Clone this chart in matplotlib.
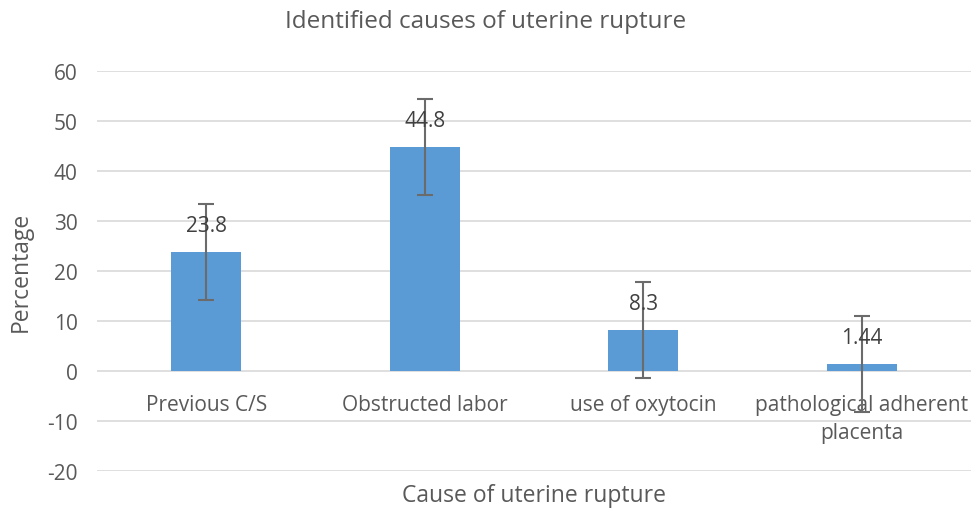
import numpy as np
import matplotlib.pyplot as plt

# Datos
causas = ["Previous C/S", "Obstructed labor", "use of oxytocin",
          "pathological adherent\nplacenta"]
porcentaje = [23.8, 44.8, 8.3, 1.44]
etiquetas = ["23.8", "44.8", "8.3", "1.44"]
error = [9.6, 9.6, 9.6, 9.6]

plt.rcParams['font.family'] = ['Open Sans', 'DejaVu Sans']
plt.rcParams['axes.unicode_minus'] = False
gris = "#595959"

fig = plt.figure(figsize=(9.72, 5.1), dpi=100)
ax = fig.add_axes([97 / 972, 38 / 510, 874 / 972, 400 / 510])

x = np.arange(len(causas))
ax.bar(x, porcentaje, width=0.32, color="#5B9BD5", zorder=3)
ax.errorbar(x, porcentaje, yerr=error, fmt="none", ecolor="#6b6b6b",
            elinewidth=1.5, capsize=6, capthick=1.5, zorder=4)

for xi, v, t in zip(x, porcentaje, etiquetas):
    ax.annotate(t, (xi, v), xytext=(0, 16), textcoords="offset pixels",
                ha="center", va="bottom", fontsize=15, color="#404040", zorder=5)

ax.set_xlim(-0.5, len(causas) - 0.5)
ax.set_ylim(-20, 60)
ax.set_yticks(range(-20, 61, 10))
ax.yaxis.grid(True, color="#D9D9D9", linewidth=1.2, zorder=0)
ax.set_xticks(x)
ax.set_xticklabels([])
ax.tick_params(axis="y", labelsize=15, labelcolor=gris, length=0, pad=14)
ax.tick_params(axis="x", length=0)
for s in ax.spines.values():
    s.set_visible(False)

# Etiquetas de categoría bajo la línea de cero
for xi, c in zip(x, causas):
    ax.text(xi, -4.6, c, ha="center", va="top", fontsize=15, color=gris,
            linespacing=1.45)

ax.set_ylabel("Percentage", fontsize=16.5, color=gris, labelpad=10)
ax.set_xlabel("Cause of uterine rupture", fontsize=16.5, color=gris)
ax.xaxis.set_label_coords(0.5, -0.03, transform=ax.transAxes)
fig.text(0.5, 1 - 22 / 510, "Identified causes of uterine rupture",
         ha="center", va="center", fontsize=17.5, color=gris)

fig.savefig("out.png", dpi=100)
